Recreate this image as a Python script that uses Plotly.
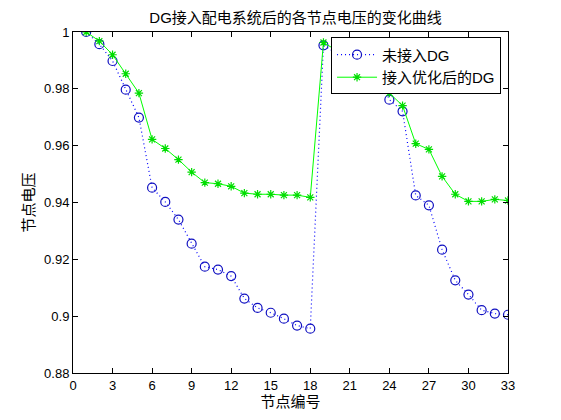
import plotly.graph_objects as go

nodes = list(range(1, 34))

# 未接入DG (points 20-23 sit behind the legend in the original)
v_before = [1.0, 0.9957, 0.9898, 0.9797, 0.9699, 0.9452, 0.9402, 0.9340, 0.9255, 0.9174,
            0.9164, 0.9141, 0.9062, 0.9029, 0.9012, 0.8991, 0.8967, 0.8956, 0.9953, 0.9925,
            0.9915, 0.9905, 0.9865, 0.9762, 0.9721, 0.9425, 0.9390, 0.9234, 0.9126, 0.9076,
            0.9021, 0.9009, 0.9005]

# 接入优化后的DG
v_after = [1.0, 0.9968, 0.9920, 0.9853, 0.9785, 0.9622, 0.9590, 0.9551, 0.9507, 0.9470,
           0.9466, 0.9457, 0.9433, 0.9429, 0.9429, 0.9426, 0.9426, 0.9418, 0.9963, 0.9935,
           0.9925, 0.9915, 0.9855, 0.9785, 0.9741, 0.9607, 0.9587, 0.9492, 0.9429, 0.9404,
           0.9404, 0.9411, 0.9407]

x_ticks = list(range(0, 34, 3))
y_ticks = [0.88, 0.9, 0.92, 0.94, 0.96, 0.98, 1]
y_labels = ['0.88', '0.9', '0.92', '0.94', '0.96', '0.98', '1']

font = 'Liberation Sans, Arial, Noto Sans CJK SC, sans-serif'

fig = go.Figure()
fig.add_trace(go.Scatter(
    x=nodes, y=v_before, mode='lines+markers', name='未接入DG',
    line=dict(color='#0000ff', width=1.2, dash='1px,3px'),
    marker=dict(symbol='circle-open', size=9, color='#1010c0', line=dict(width=1.2, color='#1010c0'))
))
fig.add_trace(go.Scatter(
    x=nodes, y=v_after, mode='lines+markers', name='接入优化后的DG',
    line=dict(color='#00ff00', width=1),
    marker=dict(symbol='asterisk-open', size=7, color='#00dd00', line=dict(width=1.2, color='#00dd00'))
))

axis_common = dict(showline=True, linecolor='black', linewidth=1, mirror='ticks',
                   ticks='inside', ticklen=5, tickcolor='black', showgrid=False,
                   zeroline=False, tickfont=dict(size=13, color='black', family=font))

# the page puts the plot 8px in from the corner, so size/margins allow for that
fig.update_layout(
    width=553, height=412,
    margin=dict(l=65, r=53, t=24, b=47),
    paper_bgcolor='white', plot_bgcolor='white',
    font=dict(family=font, size=12, color='black'),
    title=dict(text='DG接入配电系统后的各节点电压的变化曲线', x=0.52, xanchor='center',
               yref='container', y=0.977, yanchor='middle', font=dict(size=15, color='black')),
    xaxis=dict(range=[0, 33], tickvals=x_ticks,
               title=dict(text='节点编号', standoff=3, font=dict(size=15)), **axis_common),
    yaxis=dict(range=[0.88, 1], tickvals=y_ticks, ticktext=y_labels,
               title=dict(text='节点电压', standoff=5, font=dict(size=15)), **axis_common),
    legend=dict(x=0.984, y=0.984, xanchor='right', yanchor='top',
                bgcolor='white', bordercolor='black', borderwidth=1,
                font=dict(size=15, color='black'), tracegroupgap=0, itemwidth=40),
    showlegend=True,
)

fig.write_html("out.html")
